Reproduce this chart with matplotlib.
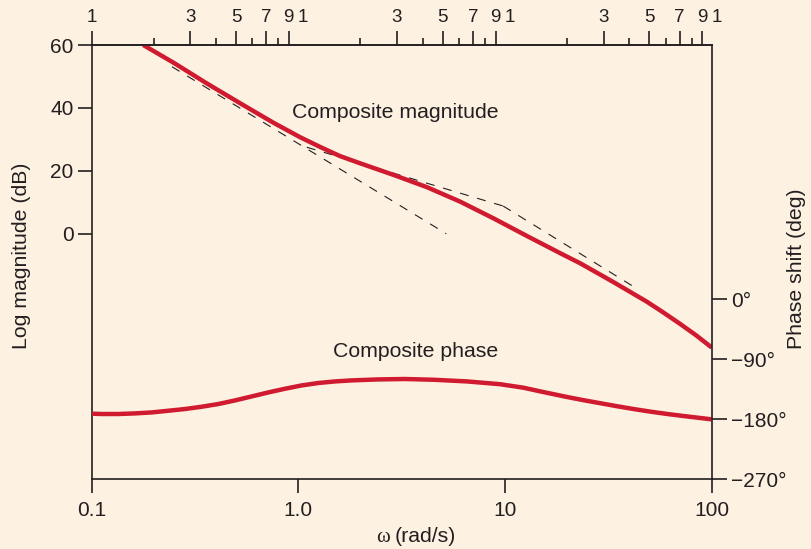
import matplotlib
matplotlib.use('Agg')
import matplotlib.pyplot as plt
import matplotlib.transforms as mtransforms

plt.rcParams['font.family'] = ['Liberation Sans', 'DejaVu Sans']

# values
mag_w = [0.178, 0.249, 0.361, 0.523, 0.758, 1.02, 1.275, 1.59, 1.99, 2.89, 4.19,
         6.07, 8.79, 12.75, 18.5, 23.1, 33.5, 48.5, 58.2, 70.4, 84.0, 100]
mag_db = [60, 54.4, 47.8, 41.5, 35.3, 30.7, 27.6, 24.7, 22.4, 18.7, 14.8,
          10.2, 4.9, -0.7, -6.2, -9.4, -15.4, -21.6, -25.0, -28.7, -32.3, -36.2]

asym1_w = [0.245, 5.2]
asym1_db = [53.1, 0]
asym2_w = [1.1, 9.8]
asym2_db = [27.5, 8.8]
asym3_w = [9.8, 44]
asym3_db = [8.8, -17.7]

phase_w = [0.1, 0.112, 0.135, 0.162, 0.196, 0.235, 0.284, 0.341, 0.411, 0.495,
           0.596, 0.717, 0.863, 1.04, 1.25, 1.51, 1.81, 2.44, 3.29, 4.5,
           6.54, 9.47, 12.3, 15.3, 19.9, 24.0, 28.9, 34.8, 41.8, 50.4,
           60.7, 73.0, 100]
phase_deg = [-172.0, -172.5, -172.5, -171.6, -170.1, -167.6, -165.0, -161.6, -157.5, -152.1,
             -146.1, -140.1, -134.6, -129.6, -126.0, -123.6, -122.1, -120.6, -120.0, -121.1,
             -123.6, -127.8, -133.1, -139.5, -146.9, -151.8, -156.3, -160.8, -165.0, -168.9,
             -172.4, -175.5, -180.5]

mag_ticks = [0, 20, 40, 60]
phase_ticks = [0, -90, -180, -270]
phase_labels = ['0°', '−90°', '−180°', '−270°']
bottom_ticks = [0.1, 1, 10, 100]
bottom_labels = ['0.1', '1.0', '10', '100']
top_major = [0.1, 0.3, 0.5, 0.7, 0.9, 1, 3, 5, 7, 9, 10, 30, 50, 70, 90, 100]
top_labels = ['1', '3', '5', '7', '9', '1', '3', '5', '7', '9', '1', '3', '5', '7', '9', '1']
top_minor = [0.2, 0.4, 0.6, 0.8, 2, 4, 6, 8, 20, 40, 60, 80]

bg = '#fdf1e2'
ink = '#231f20'
red = '#cf1a2f'

fig = plt.figure(figsize=(8.12, 5.49), dpi=100, facecolor=bg)
ax = fig.add_axes([0.1127, 0.1275, 0.7638, 0.7905])
ax.set_facecolor(bg)

ax.plot(asym1_w, asym1_db, color=ink, lw=0.8, ls=(0, (8, 8)))
ax.plot(asym2_w, asym2_db, color=ink, lw=0.8, ls=(0, (8, 8)))
ax.plot(asym3_w, asym3_db, color=ink, lw=0.8, ls=(0, (8, 8)))
ax.plot(mag_w, mag_db, color=red, lw=3.2, solid_capstyle='butt', solid_joinstyle='round')

ax.set_xscale('log')
ax.set_xlim(0.1, 100)
ax.set_ylim(-78, 60)
ax.set_yticks(mag_ticks)
ax.set_xticks(bottom_ticks)
ax.set_xticklabels(bottom_labels)
ax.minorticks_off()
ax.tick_params(axis='y', direction='out', length=10, width=1.2, color=ink,
               labelsize=15, labelcolor=ink, pad=3)
ax.tick_params(axis='x', direction='out', length=10, width=1.2, color=ink,
               labelsize=15, labelcolor=ink, pad=6)
for s in ax.spines.values():
    s.set_color(ink)
    s.set_linewidth(1.2)
ax.spines['right'].set_visible(False)

# phase on the right axis
ax2 = ax.twinx()
ax2.plot(phase_w, phase_deg, color=red, lw=3.2, solid_capstyle='butt', solid_joinstyle='round')
ax2.set_ylim(-269.5, 381)
ax2.set_yticks(phase_ticks)
ax2.set_yticklabels(phase_labels)
ax2.tick_params(axis='y', direction='out', length=11, width=1.2, color=ink,
                labelsize=15, labelcolor=ink, pad=3)
for s in ax2.spines.values():
    s.set_visible(False)
ax2.spines['right'].set_visible(True)
ax2.spines['right'].set_color(ink)
ax2.spines['right'].set_linewidth(1.2)

# top log scale
top = ax.secondary_xaxis('top')
top.set_xticks(top_major)
top.set_xticklabels(top_labels)
top.set_xticks(top_minor, minor=True)
top.tick_params(axis='x', which='major', direction='out', length=10, width=1.2,
                color=ink, labelsize=13.5, labelcolor=ink, pad=4)
top.tick_params(axis='x', which='minor', direction='out', length=5, width=1.2, color=ink)
top.spines['top'].set_color(ink)
top.spines['top'].set_linewidth(1.2)
shift = mtransforms.ScaledTranslation(5 / 100, 0, fig.dpi_scale_trans)
for i, t in enumerate(top.xaxis.get_major_ticks()):
    if top_major[i] in (1, 10, 100):
        t.tick1line.set_visible(False)
        t.tick2line.set_visible(False)
        t.label2.set_transform(t.label2.get_transform() + shift)

ax.text(0.933, 38.7, 'Composite magnitude', fontsize=15.3, color=ink, va='center', ha='left')
ax2.text(1.474, -79, 'Composite phase', fontsize=15.3, color=ink, va='center', ha='left')

fig.text(22 / 812, 1 - 256 / 549, 'Log magnitude (dB)', rotation=90, fontsize=15.3,
         color=ink, ha='center', va='center')
fig.text(797 / 812, 1 - 269 / 549, 'Phase shift (deg)', rotation=90, fontsize=15.3,
         color=ink, ha='center', va='center')
fig.text(390 / 812, 1 - 537 / 549, 'ω', family='Liberation Serif', fontsize=15,
         color=ink, ha='right', va='center')
fig.text(395 / 812, 1 - 537 / 549, '(rad/s)', fontsize=15.3, color=ink, ha='left', va='center')

fig.savefig('out.png', dpi=100, facecolor=bg)
